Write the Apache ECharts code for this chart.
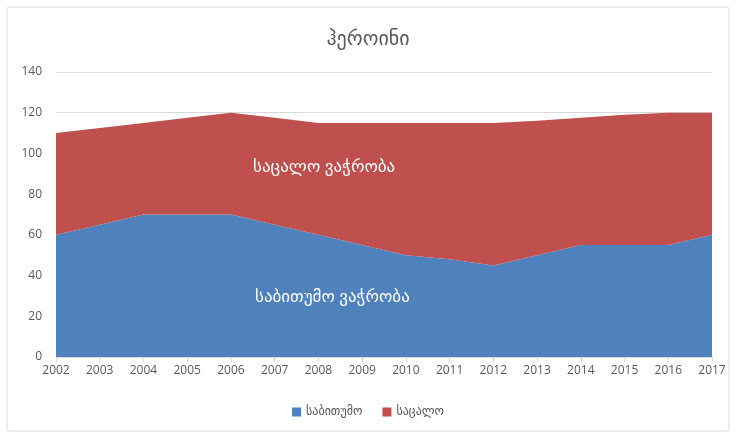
<!DOCTYPE html>
<html><head><meta charset="utf-8">
<script src="https://cdn.jsdelivr.net/npm/echarts@6/dist/echarts.min.js"></script>
<style>html,body{margin:0;padding:0;background:#fff}#c{width:736px;height:437px}</style>
</head><body><div id="c"></div>
<script>
const years = ['2002','2003','2004','2005','2006','2007','2008','2009','2010','2011','2012','2013','2014','2015','2016','2017'];
const wholesale = [60,65,70,70,70,65,60,55,50,48,45,50,55,55,55,60];
const retail = [50,47.5,45,47.5,50,52.5,55,60,65,67,70,66,62.5,64,65,60];
const seriesNames = ['საბითუმო','საცალო'];
const areaLabels = ['საბითუმო ვაჭრობა','საცალო ვაჭრობა'];
const titleText = 'ჰეროინი';
const FONT = "'Open Sans','DejaVu Sans',sans-serif";
const chart = echarts.init(document.getElementById('c'));
chart.setOption({
  animation:false,
  title:{text:titleText,left:'center',top:24,textStyle:{fontFamily:FONT,fontSize:20,fontWeight:'normal',color:'#595959'}},
  color:['#4f81bd','#c0504d'],
  legend:{bottom:14,left:'center',itemWidth:9,itemHeight:9,itemGap:20,icon:'rect',
    textStyle:{fontFamily:FONT,fontSize:12,color:'#595959'},data:seriesNames},
  grid:{left:56,right:24,top:72,bottom:80},
  xAxis:{type:'category',data:years,boundaryGap:false,
    axisLine:{lineStyle:{color:'#d9d9d9'}},axisTick:{show:true,lineStyle:{color:'#d9d9d9'}},
    axisLabel:{fontFamily:FONT,fontSize:12,color:'#595959',margin:8}},
  yAxis:{type:'value',min:0,max:140,interval:20,
    axisLine:{show:false},axisTick:{show:false},
    splitLine:{lineStyle:{color:'#d9d9d9'}},
    axisLabel:{fontFamily:FONT,fontSize:12,color:'#595959',margin:14}},
  graphic:[
    {type:'rect',shape:{x:7,y:7,width:722,height:424,r:2},style:{fill:'none',stroke:'#d9d9d9',lineWidth:1},silent:true},
    {type:'text',left:255,top:289,style:{text:areaLabels[0],fill:'#fff',fontFamily:FONT,fontSize:17},z:10},
    {type:'text',left:253,top:159,style:{text:areaLabels[1],fill:'#fff',fontFamily:FONT,fontSize:17},z:10}
  ],
  series:[
    {name:seriesNames[0],type:'line',stack:'t',data:wholesale,symbol:'none',lineStyle:{width:0},areaStyle:{opacity:1}},
    {name:seriesNames[1],type:'line',stack:'t',data:retail,symbol:'none',lineStyle:{width:0},areaStyle:{opacity:1}}
  ]
});
</script></body></html>
